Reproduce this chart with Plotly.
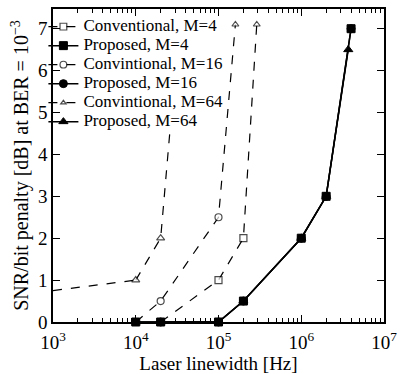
import plotly.graph_objects as go

FONT = "Liberation Serif"

# Conventional (dashed, open markers); last point = off-scale arrow
conv4_x = [2e4, 1e5, 2e5, 2.9e5]
conv4_y = [0, 1, 2, 7.1]
conv16_x = [1e4, 2e4, 1e5, 1.6e5]
conv16_y = [0, 0.5, 2.5, 7.1]
conv64_x = [1e3, 1e4, 2e4, 2.6e4]
conv64_y = [0.75, 1, 2, 4.6]

# Proposed (solid, filled markers)
prop4_x = [1e4, 2e4, 1e5, 2e5, 1e6, 2e6, 4e6]
prop4_y = [0, 0, 0, 0.5, 2, 3, 7]
prop16_x = [2e4, 1e5, 2e5, 1e6, 2e6, 4e6]
prop16_y = [0, 0, 0.5, 2, 3, 7]
prop64_x = [1e4, 2e4, 1e5, 2e5, 1e6, 2e6, 3.7e6]
prop64_y = [0, 0, 0, 0.5, 2, 3, 6.5]

x_ticks = [1e3, 1e4, 1e5, 1e6, 1e7]
x_ticktext = ["10<sup>3</sup>", "10<sup>4</sup>", "10<sup>5</sup>", "10<sup>6</sup>", "10<sup>7</sup>"]
x_minor = [m * 10 ** e for e in range(3, 7) for m in range(2, 10)]
y_ticks = [0, 1, 2, 3, 4, 5, 6, 7]

fig = go.Figure()

LEG = '<span style="font-size:17px">{}</span>'
DASH = dict(color="black", width=1.2, dash="dash")

def conv(x, y, sym, name, sizes, last_sym):
    syms = [sym] * (len(x) - 1) + [last_sym]
    fig.add_trace(go.Scatter(
        x=x, y=y, name=LEG.format(name), mode="lines+markers", cliponaxis=False,
        line=DASH,
        marker=dict(symbol=syms, size=sizes, color="white",
                    line=dict(color="black", width=1.2)),
    ))

def prop(x, y, sym, name):
    fig.add_trace(go.Scatter(
        x=x, y=y, name=LEG.format(name), mode="lines+markers", cliponaxis=False,
        line=dict(color="black", width=1.5),
        marker=dict(symbol=sym, size=8, color="black",
                    line=dict(color="black", width=1)),
    ))

# leading segment of the M=64 conventional curve (enters from the left edge)
fig.add_trace(go.Scatter(x=conv64_x[:2], y=conv64_y[:2], mode="lines",
                         line=DASH, showlegend=False, hoverinfo="skip"))
conv(conv64_x[1:], conv64_y[1:], "triangle-up", "Convintional, M=64", [7, 7, 0], "triangle-up")
conv(conv4_x, conv4_y, "square", "Conventional, M=4", [7, 7, 7, 6], "triangle-up")
conv(conv16_x, conv16_y, "circle", "Convintional, M=16", [7, 7, 7, 6], "triangle-up")
prop(prop64_x, prop64_y, "triangle-up", "Proposed, M=64")
prop(prop16_x, prop16_y, "circle", "Proposed, M=16")
prop(prop4_x, prop4_y, "square", "Proposed, M=4")

order = ["Conventional, M=4", "Proposed, M=4", "Convintional, M=16",
         "Proposed, M=16", "Convintional, M=64", "Proposed, M=64"]
for t in fig.data:
    if t.showlegend is False:
        continue
    plain = t.name.split(">")[1].split("<")[0]
    t.legendrank = order.index(plain) + 1

fig.update_layout(
    width=404, height=374,
    margin=dict(l=53, r=12, t=7, b=49),
    paper_bgcolor="white", plot_bgcolor="white",
    font=dict(family=FONT, size=19, color="black"),
    showlegend=True,
    legend=dict(x=-0.029, y=0.99, xanchor="left", yanchor="top",
                bgcolor="rgba(0,0,0,0)", borderwidth=0, font=dict(size=12),
                itemwidth=30, tracegroupgap=0),
    xaxis=dict(
        type="log", range=[3, 7],
        tickvals=x_ticks, ticktext=x_ticktext, ticklabeloverflow="allow",
        ticklabelstandoff=2,
        ticks="inside", ticklen=7, tickwidth=1.2, tickcolor="black",
        showline=True, linecolor="black", linewidth=1.5, mirror="allticks",
        showgrid=False, zeroline=False,
        minor=dict(tickmode="array", tickvals=x_minor, ticks="inside",
                   ticklen=4, tickwidth=1, tickcolor="black", showgrid=False),
        title=dict(text="Laser linewidth [Hz]", font=dict(size=19), standoff=1),
    ),
    yaxis=dict(
        range=[0, 7.47], tickvals=y_ticks,
        ticks="inside", ticklen=7, tickwidth=1.2, tickcolor="black",
        showline=True, linecolor="black", linewidth=1.5, mirror="allticks",
        showgrid=False, zeroline=False,
        title=dict(text="SNR/bit penalty [dB] at BER = 10<sup>\u22123</sup>",
                   font=dict(size=20), standoff=4),
    ),
)

fig.write_html("out.html")
